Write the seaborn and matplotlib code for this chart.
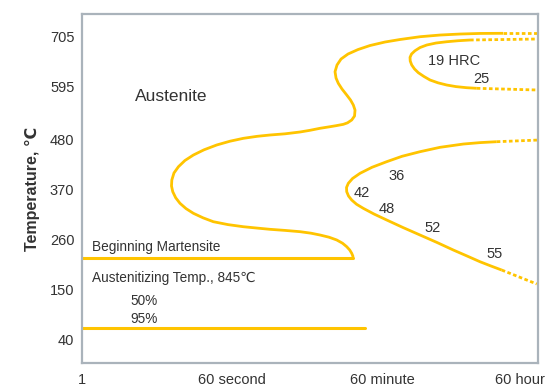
import matplotlib
matplotlib.use("Agg")
import matplotlib.pyplot as plt
import matplotlib.transforms as mtransforms
import seaborn as sns
import pandas as pd

# Isothermal transformation diagram: time in seconds (log axis), temperature in °C

# Start-of-transformation curve (upper C-curve with bay), solid part
start_time = [97900, 52240, 30260, 17530, 10160, 5885, 3907, 2594, 1870, 1423, 1176,
              1054, 998, 1026, 1092, 1208, 1373, 1524, 1645, 1723, 1700, 1574, 1404,
              1252, 1026, 871, 663, 504, 384, 255, 169, 119, 81.7, 56.8, 39.5, 27.9,
              20.9, 16.6, 13.9, 12.3, 11.6, 11.5, 11.9, 12.9, 14.5, 17.1, 20.9, 27.2,
              36.0, 53.8, 81.7, 119, 169, 255, 384, 518, 663, 847, 1046, 1225, 1373,
              1491, 1574, 1623, 1632]
start_temp = [712.5, 712.2, 710.9, 708.7, 705.0, 698.9, 693.4, 685.7, 676.9, 667.1,
              656.1, 643.0, 628.3, 614.4, 602.8, 590.3, 577.2, 566.2, 555.3, 544.1,
              531.1, 522.4, 516.2, 512.9, 509.9, 507.7, 504.2, 499.8, 496.1, 492.1,
              489.5, 486.6, 482.2, 475.9, 467.6, 457.0, 445.6, 433.6, 420.0, 406.2,
              390.8, 377.7, 365.2, 351.8, 339.7, 328.1, 317.8, 307.9, 299.4, 293.0,
              288.4, 285.4, 282.7, 280.3, 277.5, 274.2, 270.2, 265.4, 259.3, 252.2,
              244.6, 237.3, 230.1, 224.2, 219.8]
start_tail_time = [97900, 260000]
start_tail_temp = [712.5, 712.5]

# Pearlite finish curve (19 / 25 HRC)
pearl_time = [39770, 28650, 21060, 15720, 12200, 10160, 8860, 8054, 7730, 7773, 8099,
              8743, 9697, 11330, 13350, 16600, 21060, 27130, 36340, 47740]
pearl_temp = [697.8, 696.2, 694.0, 691.2, 686.8, 681.3, 674.3, 667.1, 659.8, 651.7,
              643.0, 634.2, 626.1, 617.7, 610.1, 603.9, 599.1, 595.6, 593.2, 591.9]
pearl_top_tail_time = [39770, 260000]
pearl_top_tail_temp = [697.8, 700.0]
pearl_low_tail_time = [47740, 260000]
pearl_low_tail_temp = [591.9, 588.1]

# Bainite finish curve (36 ... 55 HRC)
bain_time = [82410, 52240, 33130, 17530, 10160, 6216, 4093, 2739, 1975, 1609, 1435,
             1366, 1373, 1443, 1574, 1795, 2160, 2894, 4093, 6387, 10160, 16160,
             25210, 36640, 52240, 70530, 94470]
bain_temp = [474.8, 472.8, 469.7, 462.5, 452.9, 442.8, 431.0, 418.7, 405.5, 394.1,
             383.6, 374.4, 365.2, 355.7, 346.9, 337.7, 328.7, 316.2, 303.1, 286.6,
             270.2, 253.8, 237.3, 224.2, 211.6, 202.2, 193.4]
bain_top_tail_time = [82410, 260000]
bain_top_tail_temp = [474.8, 478.5]
bain_low_tail_time = [94470, 245600]
bain_low_tail_temp = [193.4, 162.8]

# Martensite lines
ms_time = [1, 1632]
ms_temp = [219.8, 219.8]
m95_time = [1, 2264]
m95_temp = [67, 67]

# Axis ticks
y_ticks = [40, 150, 260, 370, 480, 595, 705]
x_ticks = [1, 60, 3600, 216000]
x_labels = ["1", "60 second", "60 minute", "60 hour"]

# Annotations: (text, time, temperature at baseline, size)
notes = [
    ("Austenite", 4.25, 564.7, 12.5),
    ("19 HRC", 12640, 643.0, 10.5),
    ("25", 43510, 602.8, 10.5),
    ("36", 4276, 390.8, 10.5),
    ("42", 1645, 354.2, 10.5),
    ("48", 3254, 317.8, 10.5),
    ("52", 11330, 276.1, 10.5),
    ("55", 62720, 219.1, 10.5),
    ("Beginning Martensite", 1.30, 235.8, 9.8),
    ("Austenitizing Temp., 845\u2103", 1.30, 166.5, 9.8),
    ("50%", 3.71, 116.8, 9.8),
    ("95%", 3.71, 78.0, 9.8),
]

sns.set_theme(style="white")
plt.rcParams["font.family"] = ["Liberation Sans", "DejaVu Sans"]

GOLD = "#FFC400"
SPINE = "#AAB3BB"
TXT = "#333333"

fig = plt.figure(figsize=(5.45, 3.86), dpi=100)
ax = fig.add_axes([0.1505, 0.0588, 0.8367, 0.9049])

line_kw = dict(sort=False, estimator=None, color=GOLD, ax=ax)

solid = [(start_time, start_temp), (pearl_time, pearl_temp), (bain_time, bain_temp)]
for t, c in solid:
    sns.lineplot(data=pd.DataFrame({"t": t, "c": c}), x="t", y="c", lw=2.0,
                 solid_joinstyle="round", solid_capstyle="butt", **line_kw)

for t, c in [(ms_time, ms_temp), (m95_time, m95_temp)]:
    sns.lineplot(data=pd.DataFrame({"t": t, "c": c}), x="t", y="c", lw=2.2, **line_kw)

dotted = [(start_tail_time, start_tail_temp), (pearl_top_tail_time, pearl_top_tail_temp),
          (pearl_low_tail_time, pearl_low_tail_temp), (bain_top_tail_time, bain_top_tail_temp),
          (bain_low_tail_time, bain_low_tail_temp)]
for t, c in dotted:
    sns.lineplot(data=pd.DataFrame({"t": t, "c": c}), x="t", y="c", lw=2.0,
                 linestyle=(0, (1.3, 0.9)), **line_kw)

for text, t, c, size in notes:
    ax.text(t, c, text, fontsize=size, color=TXT, ha="left", va="baseline")

ax.set_xscale("log")
ax.set_xlim(1, 60 ** 3.04)
ax.set_ylim(-11.1, 754.8)
ax.set_xticks(x_ticks)
ax.set_xticklabels(x_labels)
ax.minorticks_off()
ax.set_yticks(y_ticks)
ax.set_yticklabels([str(v) for v in y_ticks])
ax.xaxis.get_major_ticks()[-1].tick1line.set_visible(False)

ax.tick_params(axis="both", direction="in", length=6, width=1.3, color=SPINE,
               labelsize=10.5, labelcolor=TXT)
ax.tick_params(axis="y", pad=5.5)
ax.tick_params(axis="x", pad=7)

# the last time label sits a little left of its position
last = ax.get_xticklabels()[-1]
last.set_transform(last.get_transform() +
                   mtransforms.ScaledTranslation(-9 / 72, 0, fig.dpi_scale_trans))

for s in ax.spines.values():
    s.set_visible(True)
    s.set_color(SPINE)
    s.set_linewidth(1.6)

ax.set_xlabel("")
ax.set_ylabel("Temperature, \u2103", fontsize=11.5, fontweight="bold", color=TXT,
              labelpad=7)

fig.savefig("out.png", dpi=100)
